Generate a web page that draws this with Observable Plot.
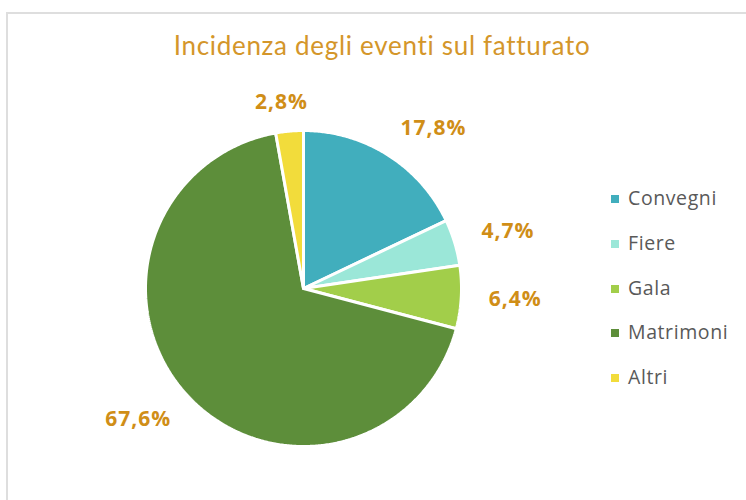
<!DOCTYPE html>
<html>
<head>
<meta charset="utf-8">
<script src="https://cdn.jsdelivr.net/npm/d3@7"></script>
<script src="https://cdn.jsdelivr.net/npm/@observablehq/plot@0.6"></script>
<style>
  html, body { margin: 0; padding: 0; background: #fff; }
  #wrap { position: relative; width: 746px; height: 500px; overflow: hidden; font-family: Lato, "Open Sans", sans-serif; }
  #frame { position: absolute; left: 6px; top: 12px; width: 800px; height: 600px; border: 2px solid #dedede; box-sizing: border-box; }
  #title { position: absolute; left: 0; width: 764px; top: 29px; line-height: 32px; text-align: center; font-size: 26px; letter-spacing: 0.7px; color: #D4962A; font-family: Lato, sans-serif; }
  #chart { position: absolute; left: 0; top: 0; }
  #chart text { letter-spacing: 1px; }
  #legend { position: absolute; left: 611px; top: 185px; }
  .item { height: 44.8px; display: flex; align-items: flex-start; font-size: 19.5px; letter-spacing: 0.6px; line-height: 26px; color: #595959; font-family: "Open Sans", sans-serif; }
  .sw { width: 8px; height: 8px; margin-right: 9px; margin-top: 10px; }
</style>
</head>
<body>
<div id="wrap">
  <div id="frame"></div>
  <div id="chart"></div>
  <div id="title">Incidenza degli eventi sul fatturato</div>
  <div id="legend"></div>
</div>
<script>
const categories = ["Convegni", "Fiere", "Gala", "Matrimoni", "Altri"];
const values = [17.8, 4.7, 6.4, 67.6, 2.8];
const labels = ["17,8%", "4,7%", "6,4%", "67,6%", "2,8%"];
const colors = ["#41AEBD", "#9BE7D8", "#A2CE4A", "#5D8E3A", "#F2DC3B"];

const W = 746, H = 500, CX = 303, CY = 288, R = 158;
const total = d3.sum(values);

// slice polygons in unit-circle coordinates (angle from top, clockwise)
let acc = 0;
const slices = values.map((v, i) => {
  const a0 = acc / total * 2 * Math.PI;
  acc += v;
  const a1 = acc / total * 2 * Math.PI;
  const n = Math.max(2, Math.ceil((a1 - a0) / (Math.PI / 360)));
  const pts = [{x: 0, y: 0}];
  for (let k = 0; k <= n; k++) {
    const a = a0 + (a1 - a0) * k / n;
    pts.push({x: Math.sin(a), y: Math.cos(a)});
  }
  pts.push({x: 0, y: 0});
  return {cat: categories[i], color: colors[i], pts, mid: (a0 + a1) / 2, label: labels[i]};
});

// label positions: outside end, box adjacent to the arc
const pad = 18 / R, hw = 36 / R, hh = 11 / R;
const clamp = v => Math.max(-1, Math.min(1, v));
const labelData = slices.map(s => {
  const ux = Math.sin(s.mid), uy = Math.cos(s.mid);
  return {
    x: (1 + pad) * ux + hw * clamp(2 * ux),
    y: (1 + pad) * uy + hh * clamp(2 * uy),
    label: s.label
  };
});

const chart = Plot.plot({
  width: W, height: H,
  margin: 0,
  x: {domain: [-CX / R, (W - CX) / R], range: [0, W], axis: null},
  y: {domain: [-(H - CY) / R, CY / R], range: [H, 0], axis: null},
  marks: [
    ...slices.map(s => Plot.line(s.pts, {
      x: "x", y: "y", fill: s.color, stroke: "#fff", strokeWidth: 3, strokeLinejoin: "miter", curve: "linear"
    })),
    Plot.text(labelData, {
      x: "x", y: "y", text: "label", fill: "#D08E17", fontSize: 21, fontWeight: "bold",
      fontFamily: "'Open Sans', sans-serif", textAnchor: "middle", lineAnchor: "middle"
    })
  ]
});
document.getElementById("chart").appendChild(chart);

const legend = document.getElementById("legend");
categories.forEach((c, i) => {
  const d = document.createElement("div");
  d.className = "item";
  d.innerHTML = `<span class="sw" style="background:${colors[i]}"></span><span>${c}</span>`;
  legend.appendChild(d);
});
</script>
</body>
</html>
